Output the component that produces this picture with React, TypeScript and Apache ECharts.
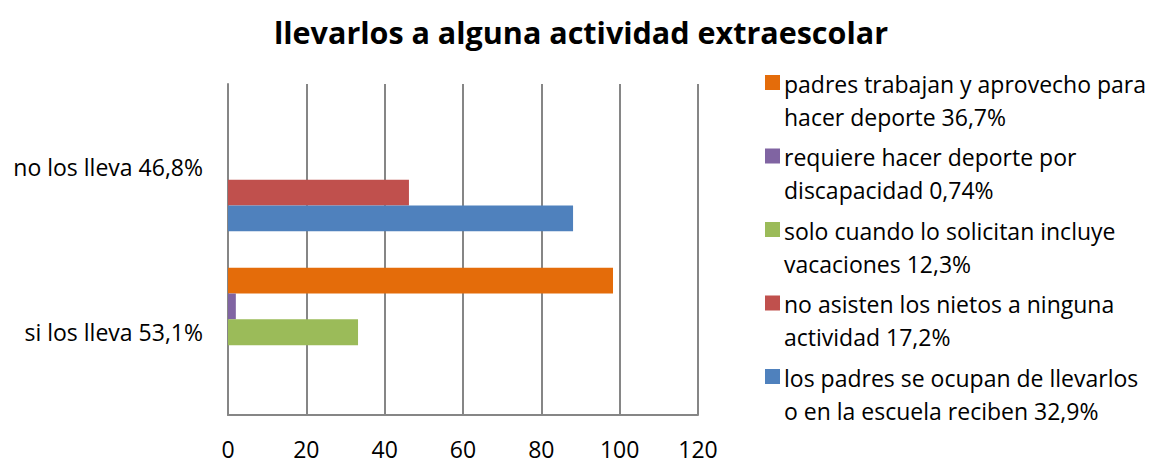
import React, { useEffect, useRef } from "react";
import * as echarts from "echarts";

const categories = ["si los lleva 53,1%", "no los lleva 46,8%"];
const seriesNames = [
  "padres trabajan y aprovecho para hacer deporte 36,7%",
  "requiere hacer deporte por discapacidad 0,74%",
  "solo cuando lo solicitan incluye vacaciones 12,3%",
  "no asisten los nietos a ninguna actividad 17,2%",
  "los padres se ocupan de llevarlos o en la escuela reciben 32,9%",
];
const legendLines = [
  ["padres trabajan y aprovecho para", "hacer deporte 36,7%"],
  ["requiere hacer deporte por", "discapacidad 0,74%"],
  ["solo cuando lo solicitan incluye", "vacaciones 12,3%"],
  ["no asisten los nietos a ninguna", "actividad 17,2%"],
  ["los padres se ocupan de llevarlos", "o en la escuela reciben 32,9%"],
];
const seriesColors = ["#E46C0A", "#8064A2", "#9BBB59", "#C0504D", "#4F81BD"];
// values per series: [si los lleva, no los lleva]
const seriesValues = [
  [98.3, 0],
  [2, 0],
  [33.2, 0],
  [0, 46.2],
  [0, 88.1],
];
const xTicks = { min: 0, max: 120, interval: 20 };

const FONT = "Open Sans";

export default function App() {
  const ref = useRef<HTMLDivElement>(null);
  useEffect(() => {
    if (!ref.current) return;
    const chart = echarts.init(ref.current, undefined, { renderer: "svg" });
    const iconPath = "path://M0,0h0.01v0.01h-0.01Z M0,8h15v15h-15Z M0,66h0.01v0.01h-0.01Z";
    chart.setOption({
      animation: false,
      textStyle: { fontFamily: FONT },
      title: {
        text: "llevarlos a alguna actividad extraescolar",
        left: 576,
        textAlign: "center",
        top: 11,
        textStyle: { fontFamily: FONT, fontSize: 30.5, fontWeight: "bold", color: "#000" },
      },
      legend: {
        orient: "vertical",
        left: 760,
        top: 62,
        itemWidth: 15,
        itemHeight: 66,
        itemGap: 7.5,
        icon: iconPath,
        data: seriesNames,
        formatter: (name: string) => legendLines[seriesNames.indexOf(name)].join("\n"),
        textStyle: { fontFamily: FONT, fontSize: 23, lineHeight: 33, color: "#000", padding: [0, 0, 0, -1] },
      },
      grid: { left: 228, right: 453, top: 84, bottom: 49, containLabel: false },
      xAxis: {
        type: "value",
        min: xTicks.min,
        max: xTicks.max,
        interval: xTicks.interval,
        axisLine: { show: true, lineStyle: { color: "#868686", width: 2 } },
        axisTick: { show: false },
        axisLabel: { fontFamily: FONT, fontSize: 23, color: "#000", margin: 22 },
        splitLine: { show: true, lineStyle: { color: "#868686", width: 2 } },
      },
      yAxis: {
        type: "category",
        data: categories,
        axisLine: { show: true, lineStyle: { color: "#868686", width: 2 } },
        axisTick: { show: false },
        axisLabel: { fontFamily: FONT, fontSize: 23, color: "#000", margin: 25 },
      },
      series: seriesNames.map((name, i) => ({
        name,
        type: "bar",
        data: seriesValues[i],
        itemStyle: { color: seriesColors[i] },
        barGap: "0%",
        barCategoryGap: "22%",
      })),
    });
    return () => chart.dispose();
  }, []);
  return (
    <div
      ref={ref}
      style={{ position: "absolute", left: 0, top: 0, width: 1151, height: 464 }}
    />
  );
}
